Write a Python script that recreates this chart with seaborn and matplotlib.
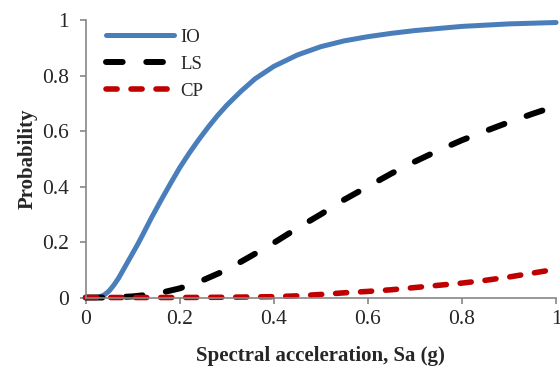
import matplotlib
matplotlib.use("Agg")
import matplotlib.pyplot as plt
import seaborn as sns
import pandas as pd

# ---- data ----
io_x = [0, 0.02, 0.03, 0.04, 0.05, 0.06, 0.07, 0.08, 0.09, 0.10, 0.11, 0.12, 0.13, 0.14,
        0.16, 0.18, 0.20, 0.22, 0.24, 0.26, 0.28, 0.30, 0.33, 0.36, 0.40, 0.45, 0.50,
        0.55, 0.60, 0.65, 0.70, 0.80, 0.90, 1.00]
io_p = [0, 0, 0.002, 0.01, 0.024, 0.045, 0.07, 0.10, 0.13, 0.16, 0.19, 0.222, 0.255, 0.288,
        0.35, 0.41, 0.468, 0.52, 0.568, 0.613, 0.655, 0.693, 0.743, 0.788, 0.833, 0.874,
        0.904, 0.925, 0.94, 0.952, 0.962, 0.977, 0.986, 0.991]

ls_x = [0, 0.05, 0.10, 0.15, 0.20, 0.25, 0.30, 0.35, 0.40, 0.45, 0.50, 0.55, 0.60, 0.65,
        0.70, 0.75, 0.80, 0.85, 0.90, 0.95, 1.00]
ls_p = [0, 0.0, 0.004, 0.013, 0.033, 0.063, 0.10, 0.148, 0.197, 0.25, 0.30, 0.353, 0.40,
        0.447, 0.49, 0.53, 0.567, 0.60, 0.632, 0.662, 0.69]

cp_x = [0, 0.1, 0.2, 0.3, 0.35, 0.4, 0.45, 0.5, 0.55, 0.6, 0.65, 0.7, 0.75, 0.8, 0.85,
        0.9, 0.95, 1.0]
cp_p = [0, 0, 0, 0.001, 0.002, 0.003, 0.006, 0.011, 0.017, 0.022, 0.028, 0.036, 0.044,
        0.052, 0.062, 0.074, 0.088, 0.102]

series_names = ["IO", "LS", "CP"]
ticks = [0, 0.2, 0.4, 0.6, 0.8, 1]
tick_labels = ["0", "0.2", "0.4", "0.6", "0.8", "1"]
x_label = "Spectral acceleration, Sa (g)"
y_label = "Probability"

# ---- styling ----
sns.set_style("white")
plt.rcParams["font.family"] = ["Liberation Serif", "DejaVu Serif"]
plt.rcParams["lines.scale_dashes"] = False

fig = plt.figure(figsize=(5.6, 3.74), dpi=100)
ax = fig.add_axes([0.153, 0.2045, 0.840, 0.742])

df_io = pd.DataFrame({"x": io_x, "p": io_p})
df_ls = pd.DataFrame({"x": ls_x, "p": ls_p})
df_cp = pd.DataFrame({"x": cp_x, "p": cp_p})

sns.lineplot(data=df_io, x="x", y="p", ax=ax, color="#4A7EBB", linewidth=3.6,
             label=series_names[0], solid_capstyle="round")
sns.lineplot(data=df_ls, x="x", y="p", ax=ax, color="black", linewidth=4.3,
             label=series_names[1])
sns.lineplot(data=df_cp, x="x", y="p", ax=ax, color="#C00000", linewidth=4.0,
             label=series_names[2])

lines = ax.get_lines()
lines[1].set_dashes((12, 17))
lines[1].set_dash_capstyle("round")
lines[2].set_dashes((8, 10))
lines[2].set_dash_capstyle("round")
for ln in lines:
    ln.set_clip_on(False)

ax.set_xlim(0, 1)
ax.set_ylim(0, 1)
ax.set_xticks(ticks)
ax.set_xticklabels(tick_labels)
ax.set_yticks(ticks)
ax.set_yticklabels(tick_labels)
ax.tick_params(axis="both", which="major", direction="out", length=4.3, width=1.2,
               color="#868686", labelsize=15.5, bottom=True, left=True)
ax.tick_params(axis="x", pad=4.5)
ax.tick_params(axis="y", pad=7.5)

for s in ["top", "right"]:
    ax.spines[s].set_visible(False)
for s in ["left", "bottom"]:
    ax.spines[s].set_color("#868686")
    ax.spines[s].set_linewidth(1.2)

ax.set_xlabel(x_label, fontsize=15, fontweight="bold")
ax.set_ylabel(y_label, fontsize=15, fontweight="bold")
ax.xaxis.set_label_coords(0.5, -0.176)
ax.yaxis.set_label_coords(-0.102, 0.5)

leg = ax.legend(loc="upper left", bbox_to_anchor=(0.016, 1.016), frameon=False,
                fontsize=13.5, handlelength=3.6, handletextpad=0.35,
                labelspacing=0.53, borderpad=0.2)
leg_lines = leg.get_lines()
leg_lines[1].set_dashes((12, 17))
leg_lines[1].set_dash_capstyle("round")
leg_lines[2].set_dashes((8, 10))
leg_lines[2].set_dash_capstyle("round")

fig.savefig("out.png", dpi=100)
